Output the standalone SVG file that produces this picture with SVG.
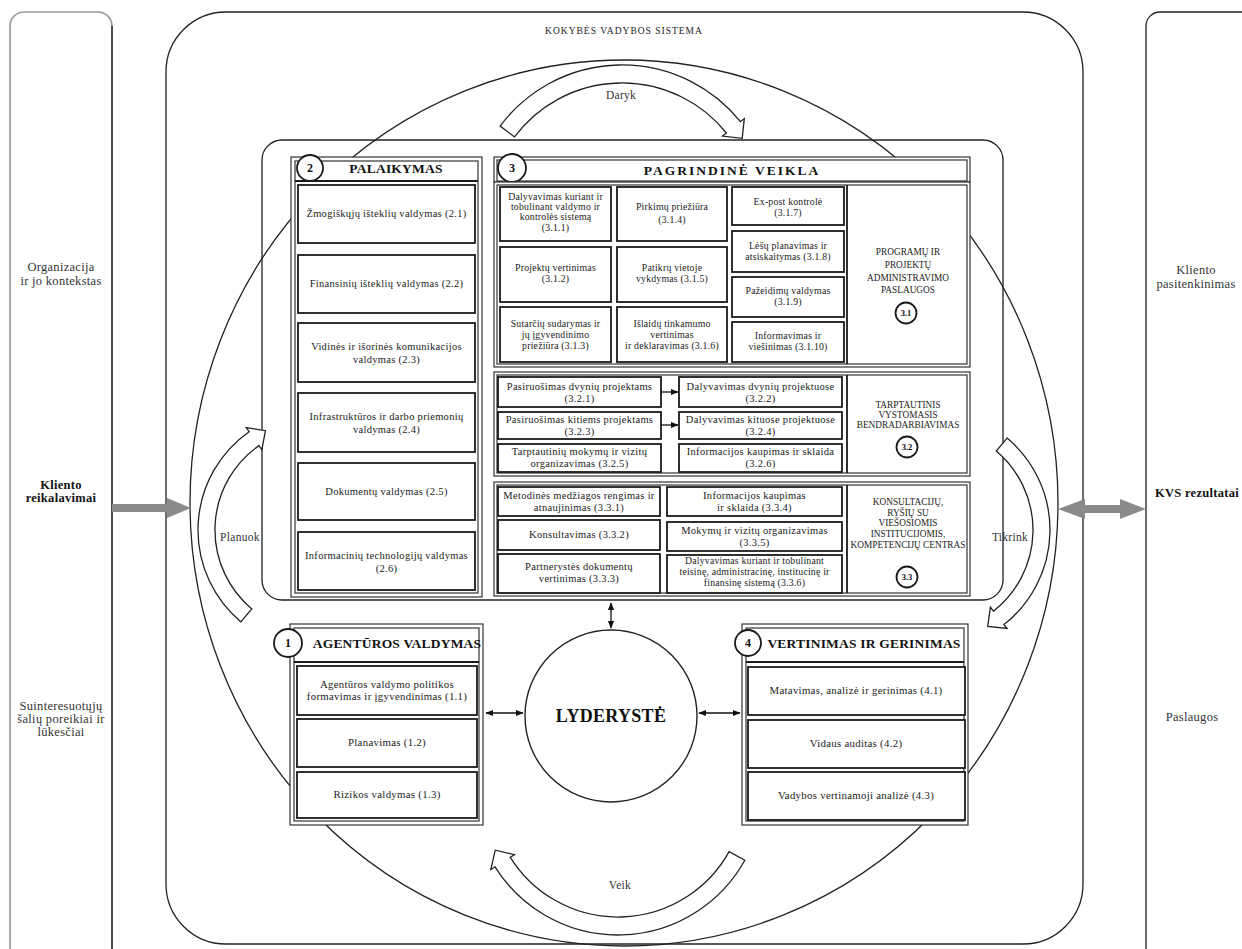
<svg xmlns="http://www.w3.org/2000/svg" width="1242" height="949" viewBox="0 0 1242 949">
<style>
.t{font-family:"Liberation Serif","Times New Roman",serif;font-size:10.5px;letter-spacing:0.3px;fill:#222;text-anchor:middle}
.m{font-size:9.8px;letter-spacing:0.2px}
.l{font-size:10.8px}
.s{font-size:9.8px;letter-spacing:0.2px}
.h{font-size:13.5px;font-weight:bold;fill:#111;letter-spacing:0.2px}
.cap{font-size:9.3px;letter-spacing:0px}
.side{font-size:12.5px;fill:#333}
.b{font-weight:bold;fill:#111}
.n{font-size:12px;font-weight:bold;fill:#111;letter-spacing:0px}
.n2{font-size:8.5px;font-weight:bold;fill:#111;letter-spacing:0px}
.ld{font-size:18px;font-weight:bold;fill:#111}
.ttl{font-size:9.5px;letter-spacing:1px}
.cy{font-size:11.5px;fill:#333}
.frame{fill:#fff;stroke:#333;stroke-width:1.2}
.inner{fill:none;stroke:#333;stroke-width:1.2}
.box{fill:#fff;stroke:#1a1a1a;stroke-width:1.8}
.num{fill:#fff;stroke:#1a1a1a;stroke-width:1.8}
.cyc{fill:#fff;stroke:#222;stroke-width:1.3}
.gray{fill:#8a8a8a}
.con{stroke:#111;stroke-width:1.3;fill:none}
.line{fill:none;stroke:#222;stroke-width:1.3}
</style>
<defs>
<marker id="ah" viewBox="0 0 10 10" refX="9" refY="5" markerWidth="6" markerHeight="6" orient="auto-start-reverse"><path d="M0,1 L10,5 L0,9 Z" fill="#111"/></marker>
</defs>
<rect width="1242" height="949" fill="#fff"/>

<g id="context-panel">
<rect x="10" y="12" width="102" height="960" rx="14" fill="none" stroke="#999" stroke-width="1.6"/>
<line x1="112" y1="26" x2="112" y2="949" stroke="#333" stroke-width="1.6"/>
<text class="t side" x="61" y="271">Organizacija</text>
<text class="t side" x="61" y="285">ir jo kontekstas</text>
<text class="t side b" x="61" y="489">Kliento</text>
<text class="t side b" x="61" y="502">reikalavimai</text>
<text class="t side" x="61" y="710">Suinteresuotųjų</text>
<text class="t side" x="61" y="723">šalių poreikiai ir</text>
<text class="t side" x="61" y="736">lūkesčiai</text>
</g>

<g id="results-panel">
<rect x="1146" y="12" width="120" height="960" rx="14" class="line" stroke="#666"/>
<text class="t side" x="1196" y="274">Kliento</text>
<text class="t side" x="1196" y="288">pasitenkinimas</text>
<text class="t side b" x="1197" y="497">KVS rezultatai</text>
<text class="t side" x="1192" y="721">Paslaugos</text>
</g>

<g id="kvs-system">
<rect x="166" y="12" width="917" height="932" rx="60" class="line"/>
<text class="t ttl" x="624" y="34">KOKYBĖS VADYBOS SISTEMA</text>
<ellipse cx="624" cy="503" rx="434" ry="443" class="line"/>
<rect x="262" y="140" width="741" height="460" rx="20" class="line"/>
</g>

<g id="cycle">
<path class="cyc" d="M500.1,126.1 A152,152 0 0 1 740.4,121.7 L744.3,118.6 L742.2,138.3 L722.5,136.1 L726.4,133 A134,134 0 0 0 514.5,136.9 Z"/>
<text class="t cy" x="621" y="99">Daryk</text>
<path class="cyc" d="M1007.1,438.1 A120,120 0 0 1 1003.9,624.6 L1007,628.5 L987.7,626.5 L990.4,607.2 L993.4,611.2 A103,103 0 0 0 996.2,451.1 Z"/>
<text class="t cy" x="1010" y="541">Tikrink</text>
<path class="cyc" d="M744.8,860.3 A145,145 0 0 1 495,866.8 L490.8,869.5 L495.2,850.2 L514.5,854.7 L510.3,857.3 A127,127 0 0 0 729.1,851.6 Z"/>
<text class="t cy" x="620" y="889">Veik</text>
<path class="cyc" d="M240.9,621.9 A120,120 0 0 1 249.1,431.7 L246.3,427.6 L265.5,430.7 L261.8,449.7 L258.9,445.6 A103,103 0 0 0 251.8,608.9 Z"/>
<text class="t cy" x="240" y="541">Planuok</text>
</g>

<g id="support">
<rect x="291" y="157" width="191" height="440" class="frame"/>
<rect x="295" y="161" width="183" height="432" class="inner"/>
<line x1="295" y1="181" x2="478" y2="181" stroke="#1a1a1a" stroke-width="2"/>
<circle cx="310" cy="168" r="13" class="num"/>
<text class="t n" x="310" y="172">2</text>
<text class="t h" x="396" y="173">PALAIKYMAS</text>
<rect x="298" y="185" width="177" height="58" class="box"/>
<text class="t" x="386.5" y="217">Žmogiškųjų išteklių valdymas (2.1)</text>
<rect x="298" y="255" width="177" height="58" class="box"/>
<text class="t" x="386.5" y="287">Finansinių išteklių valdymas (2.2)</text>
<rect x="298" y="323" width="177" height="59" class="box"/>
<text class="t" x="386.5" y="350">Vidinės ir išorinės komunikacijos</text>
<text class="t" x="386.5" y="363">valdymas (2.3)</text>
<rect x="298" y="393" width="177" height="59" class="box"/>
<text class="t" x="386.5" y="420">Infrastruktūros ir darbo priemonių</text>
<text class="t" x="386.5" y="433">valdymas (2.4)</text>
<rect x="298" y="463" width="177" height="57" class="box"/>
<text class="t" x="386.5" y="495">Dokumentų valdymas (2.5)</text>
<rect x="298" y="532" width="177" height="58" class="box"/>
<text class="t" x="386.5" y="559">Informacinių technologijų valdymas</text>
<text class="t" x="386.5" y="572">(2.6)</text>
</g>

<g id="core">
<rect x="494" y="157" width="476" height="25" class="frame"/>
<rect x="497" y="160" width="470" height="21" class="inner"/>
<circle cx="512" cy="168" r="14" class="num"/>
<text class="t n" x="512" y="172">3</text>
<text class="t h" x="732" y="175" style="letter-spacing:2px">PAGRINDINĖ VEIKLA</text>
</g>

<g id="core-3-1">
<rect x="494" y="182" width="476" height="185" class="frame"/>
<rect x="497" y="185" width="470" height="179" class="inner"/>
<line x1="847" y1="185" x2="847" y2="364" stroke="#1a1a1a" stroke-width="1.8"/>
<rect x="500" y="187" width="111" height="54" class="box"/>
<text class="t m" x="555.5" y="200">Dalyvavimas kuriant ir</text>
<text class="t m" x="555.5" y="210">tobulinant valdymo ir</text>
<text class="t m" x="555.5" y="220">kontrolės sistemą</text>
<text class="t m" x="555.5" y="231">(3.1.1)</text>
<rect x="500" y="247" width="111" height="55" class="box"/>
<text class="t m" x="555.5" y="271">Projektų vertinimas</text>
<text class="t m" x="555.5" y="282">(3.1.2)</text>
<rect x="500" y="307" width="111" height="55" class="box"/>
<text class="t m" x="555.5" y="327">Sutarčių sudarymas ir</text>
<text class="t m" x="555.5" y="338">jų įgyvendinimo</text>
<text class="t m" x="555.5" y="349">priežiūra (3.1.3)</text>
<rect x="617" y="187" width="110" height="54" class="box"/>
<text class="t m" x="672" y="210">Pirkimų priežiūra</text>
<text class="t m" x="672" y="223">(3.1.4)</text>
<rect x="617" y="247" width="110" height="55" class="box"/>
<text class="t m" x="672" y="271">Patikrų vietoje</text>
<text class="t m" x="672" y="282">vykdymas (3.1.5)</text>
<rect x="617" y="307" width="110" height="55" class="box"/>
<text class="t m" x="672" y="327">Išlaidų tinkamumo</text>
<text class="t m" x="672" y="338">vertinimas</text>
<text class="t m" x="672" y="349">ir deklaravimas (3.1.6)</text>
<rect x="732" y="187" width="112" height="38" class="box"/>
<text class="t m" x="788" y="205">Ex-post kontrolė</text>
<text class="t m" x="788" y="216">(3.1.7)</text>
<rect x="732" y="231" width="112" height="41" class="box"/>
<text class="t m" x="788" y="249">Lėšų planavimas ir</text>
<text class="t m" x="788" y="260">atsiskaitymas  (3.1.8)</text>
<rect x="732" y="277" width="112" height="40" class="box"/>
<text class="t m" x="788" y="294">Pažeidimų valdymas</text>
<text class="t m" x="788" y="305">(3.1.9)</text>
<rect x="732" y="322" width="112" height="40" class="box"/>
<text class="t m" x="788" y="339">Informavimas ir</text>
<text class="t m" x="788" y="350">viešinimas (3.1.10)</text>
<text class="t cap" x="908" y="255">PROGRAMŲ IR</text>
<text class="t cap" x="908" y="268">PROJEKTŲ</text>
<text class="t cap" x="908" y="281">ADMINISTRAVIMO</text>
<text class="t cap" x="908" y="293">PASLAUGOS</text>
<circle cx="906" cy="313" r="10.5" class="num"/>
<text class="t n2" x="906" y="316">3.1</text>
</g>

<g id="core-3-2">
<rect x="494" y="372" width="476" height="104" class="frame"/>
<rect x="497" y="375" width="470" height="98" class="inner"/>
<line x1="847" y1="375" x2="847" y2="473" stroke="#1a1a1a" stroke-width="1.8"/>
<rect x="498" y="377" width="163" height="30" class="box"/>
<text class="t" x="579.5" y="390">Pasiruošimas dvynių projektams</text>
<text class="t" x="579.5" y="402">(3.2.1)</text>
<rect x="498" y="412" width="163" height="27" class="box"/>
<text class="t" x="579.5" y="423">Pasiruošimas kitiems projektams</text>
<text class="t" x="579.5" y="435">(3.2.3)</text>
<rect x="498" y="444" width="163" height="28" class="box"/>
<text class="t" x="579.5" y="455">Tarptautinių mokymų ir vizitų</text>
<text class="t" x="579.5" y="467">organizavimas (3.2.5)</text>
<rect x="679" y="377" width="163" height="30" class="box"/>
<text class="t" x="760.5" y="390">Dalyvavimas dvynių projektuose</text>
<text class="t" x="760.5" y="402">(3.2.2)</text>
<rect x="679" y="412" width="163" height="27" class="box"/>
<text class="t" x="760.5" y="423">Dalyvavimas kituose projektuose</text>
<text class="t" x="760.5" y="435">(3.2.4)</text>
<rect x="679" y="444" width="163" height="28" class="box"/>
<text class="t" x="760.5" y="455">Informacijos kaupimas ir sklaida</text>
<text class="t" x="760.5" y="467">(3.2.6)</text>
<text class="t cap" x="908" y="408">TARPTAUTINIS</text>
<text class="t cap" x="908" y="418">VYSTOMASIS</text>
<text class="t cap" x="908" y="428">BENDRADARBIAVIMAS</text>
<circle cx="907" cy="447" r="10.5" class="num"/>
<text class="t n2" x="907" y="450">3.2</text>
</g>

<g id="core-3-3">
<rect x="494" y="482" width="476" height="114" class="frame"/>
<rect x="497" y="485" width="470" height="108" class="inner"/>
<line x1="847" y1="485" x2="847" y2="593" stroke="#1a1a1a" stroke-width="1.8"/>
<rect x="498" y="487" width="162" height="29" class="box"/>
<text class="t" x="579" y="499">Metodinės medžiagos rengimas ir</text>
<text class="t" x="579" y="511">atnaujinimas  (3.3.1)</text>
<rect x="498" y="520" width="162" height="30" class="box"/>
<text class="t" x="579" y="538">Konsultavimas (3.3.2)</text>
<rect x="498" y="554" width="162" height="39" class="box"/>
<text class="t" x="579" y="570">Partnerystės dokumentų</text>
<text class="t" x="579" y="582">vertinimas (3.3.3)</text>
<rect x="667" y="487" width="175" height="29" class="box"/>
<text class="t" x="754.5" y="499">Informacijos kaupimas</text>
<text class="t" x="754.5" y="511">ir sklaida (3.3.4)</text>
<rect x="667" y="522" width="175" height="29" class="box"/>
<text class="t" x="754.5" y="534">Mokymų ir vizitų organizavimas</text>
<text class="t" x="754.5" y="546">(3.3.5)</text>
<rect x="667" y="555" width="175" height="38" class="box"/>
<text class="t s" x="754.5" y="564">Dalyvavimas kuriant ir tobulinant</text>
<text class="t s" x="754.5" y="575">teisinę, administracinę, institucinę ir</text>
<text class="t s" x="754.5" y="586">finansinę sistemą (3.3.6)</text>
<text class="t cap" x="908" y="505">KONSULTACIJŲ,</text>
<text class="t cap" x="908" y="516">RYŠIŲ SU</text>
<text class="t cap" x="908" y="526">VIEŠOSIOMIS</text>
<text class="t cap" x="908" y="537">INSTITUCIJOMIS,</text>
<text class="t cap" x="908" y="548">KOMPETENCIJŲ CENTRAS</text>
<circle cx="907" cy="577" r="10.5" class="num"/>
<text class="t n2" x="907" y="580">3.3</text>
</g>

<g id="management">
<rect x="290" y="624" width="193" height="201" class="frame"/>
<rect x="294" y="628" width="185" height="193" class="inner"/>
<line x1="294" y1="662" x2="479" y2="662" stroke="#1a1a1a" stroke-width="2"/>
<circle cx="288" cy="643" r="14" class="num"/>
<text class="t n" x="288" y="647">1</text>
<text class="t h" x="397" y="648">AGENTŪROS VALDYMAS</text>
<rect x="297" y="666" width="180" height="49" class="box"/>
<text class="t l" x="387" y="688">Agentūros valdymo politikos</text>
<text class="t l" x="387" y="700">formavimas ir įgyvendinimas  (1.1)</text>
<rect x="297" y="719" width="180" height="48" class="box"/>
<text class="t l" x="387" y="746">Planavimas (1.2)</text>
<rect x="297" y="772" width="180" height="46" class="box"/>
<text class="t l" x="387" y="798">Rizikos valdymas (1.3)</text>
</g>

<g id="evaluation">
<rect x="742" y="624" width="226" height="201" class="frame"/>
<rect x="746" y="628" width="218" height="193" class="inner"/>
<line x1="746" y1="662" x2="964" y2="662" stroke="#1a1a1a" stroke-width="2"/>
<circle cx="748" cy="643" r="13" class="num"/>
<text class="t n" x="748" y="647">4</text>
<text class="t h" x="864" y="648">VERTINIMAS IR GERINIMAS</text>
<rect x="748" y="667" width="217" height="48" class="box"/>
<text class="t l" x="856" y="694">Matavimas, analizė ir gerinimas (4.1)</text>
<rect x="748" y="720" width="217" height="48" class="box"/>
<text class="t l" x="856" y="747">Vidaus auditas (4.2)</text>
<rect x="748" y="772" width="217" height="48" class="box"/>
<text class="t l" x="856" y="799">Vadybos vertinamoji analizė (4.3)</text>
</g>

<g id="leadership">
<circle cx="611" cy="716" r="86" fill="#fff" stroke="#222" stroke-width="1.4"/>
<text class="t ld" x="611" y="722">LYDERYSTĖ</text>
</g>

<g id="connectors">
<polygon class="gray" points="112,504 167,504 167,498 191,508 167,518 167,512 112,512"/>
<polygon class="gray" points="1058,509 1085,499 1085,505 1120,505 1120,499 1146,509 1120,519 1120,513 1085,513 1085,519"/>
<line class="con" x1="486" y1="713" x2="523" y2="713" marker-start="url(#ah)" marker-end="url(#ah)"/>
<line class="con" x1="699" y1="713" x2="740" y2="713" marker-start="url(#ah)" marker-end="url(#ah)"/>
<line class="con" x1="611" y1="603" x2="611" y2="628" marker-start="url(#ah)" marker-end="url(#ah)"/>
<line class="con" x1="661" y1="392" x2="678" y2="392" marker-end="url(#ah)"/>
<line class="con" x1="661" y1="425" x2="678" y2="425" marker-end="url(#ah)"/>
</g>
</svg>
